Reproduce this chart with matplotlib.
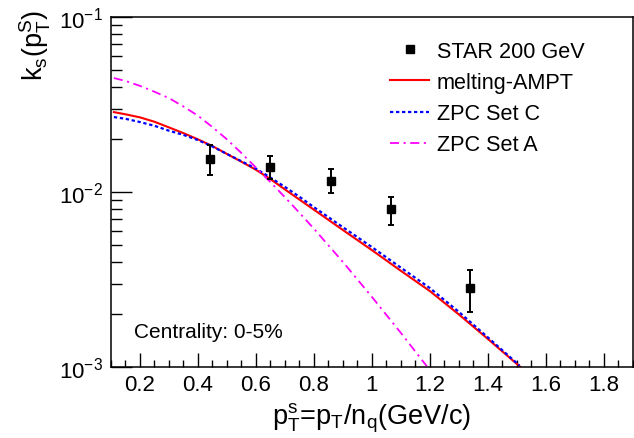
import matplotlib
matplotlib.use('Agg')
from matplotlib import pyplot as plt
from matplotlib.lines import Line2D
from matplotlib.ticker import LogLocator, MultipleLocator, FormatStrFormatter, NullFormatter

plt.rcParams['font.family'] = ['Liberation Sans', 'DejaVu Sans']
plt.rcParams['mathtext.default'] = 'regular'

# STAR 200 GeV data
star_x = [0.44, 0.65, 0.86, 1.065, 1.34]
star_y = [0.0155, 0.0139, 0.0116, 0.0080, 0.00283]
star_err_lo = [0.0030, 0.0020, 0.0017, 0.0015, 0.00077]
star_err_hi = [0.0031, 0.0022, 0.0019, 0.0014, 0.00075]

# model curves
ampt_x = [0.11, 0.15, 0.2, 0.25, 0.3, 0.35, 0.4, 0.45, 0.5, 0.55, 0.6, 0.65, 0.7, 0.75,
          0.8, 0.9, 1.0, 1.1, 1.2, 1.3, 1.4, 1.513]
ampt_y = [0.0286, 0.0278, 0.0267, 0.0252, 0.0234, 0.0217, 0.0200, 0.0183, 0.0165, 0.0149,
          0.0134, 0.01186, 0.01035, 0.00906, 0.00793, 0.00607, 0.00466, 0.00355, 0.00272,
          0.0020, 0.00145, 0.0010]

setc_x = [0.11, 0.15, 0.2, 0.25, 0.3, 0.35, 0.4, 0.45, 0.5, 0.55, 0.6, 0.65, 0.7, 0.75,
          0.8, 0.9, 1.0, 1.1, 1.2, 1.3, 1.4, 1.51]
setc_y = [0.0268, 0.0262, 0.0251, 0.0239, 0.0224, 0.0212, 0.0198, 0.0182, 0.0165, 0.0150,
          0.0136, 0.0121, 0.0107, 0.0094, 0.0082, 0.0063, 0.00485, 0.0037, 0.00283,
          0.00207, 0.00148, 0.00102]

seta_x = [0.11, 0.15, 0.2, 0.25, 0.3, 0.35, 0.4, 0.45, 0.5, 0.55, 0.6, 0.65, 0.7, 0.75,
          0.8, 0.9, 1.0, 1.1, 1.19]
seta_y = [0.0448, 0.0431, 0.0404, 0.0374, 0.0344, 0.0308, 0.0273, 0.0235, 0.0200, 0.0167,
          0.0138, 0.0114, 0.00935, 0.00762, 0.00618, 0.00399, 0.00252, 0.00157, 0.00101]

fig = plt.figure(figsize=(6.34, 4.39), dpi=100)
ax = fig.add_axes([111 / 634, 1 - 368 / 439, 521.5 / 634, 350 / 439])

ax.plot(ampt_x, ampt_y, color='#ff0000', lw=1.5)
ax.plot(setc_x, setc_y, color='#0000ff', lw=1.6, ls=(0, (1.5, 1.2)))
ax.plot(seta_x, seta_y, color='#ff00ff', lw=1.3, ls=(0, (5, 2.5, 1.2, 2.5)))
ax.errorbar(star_x, star_y, yerr=[star_err_lo, star_err_hi], fmt='s', color='black',
            ms=6, elinewidth=1.4, capsize=2.5, capthick=1.4, zorder=5)

ax.set_yscale('log')
ax.set_xlim(0.1, 1.9)
ax.set_ylim(1e-3, 1e-1)

ax.xaxis.set_major_locator(MultipleLocator(0.2))
ax.xaxis.set_minor_locator(MultipleLocator(0.05))
ax.xaxis.set_major_formatter(FormatStrFormatter('%g'))
ax.yaxis.set_major_locator(LogLocator(base=10))
ax.yaxis.set_minor_locator(LogLocator(base=10, subs=range(2, 10)))
ax.yaxis.set_minor_formatter(NullFormatter())

ax.tick_params(which='both', direction='in', top=False, right=False, labelsize=16, width=1)
ax.tick_params(axis='x', which='major', length=10, pad=5)
ax.tick_params(axis='x', which='minor', length=5)
ax.tick_params(axis='y', which='major', length=15, pad=6)
ax.tick_params(axis='y', which='minor', length=8)
for side in ['top', 'right', 'left', 'bottom']:
    ax.spines[side].set_linewidth(1.1)

ax.set_xlabel('$p_{T}^{s}$=$p_{T}$/$n_{q}$(GeV/c)', fontsize=19.5, labelpad=4)
fig.text(35 / 634, 1 - 45 / 439, '$k_{s}(p_{T}^{S})$', fontsize=19.5, rotation=90,
         ha='center', va='center')

ax.text(0.044, 0.085, 'Centrality: 0-5%', transform=ax.transAxes, fontsize=15)

handles = [
    Line2D([], [], ls='none', marker='s', ms=6, color='black'),
    Line2D([], [], color='#ff0000', lw=1.5),
    Line2D([], [], color='#0000ff', lw=1.6, ls=(0, (1.5, 1.2))),
    Line2D([], [], color='#ff00ff', lw=1.3, ls=(0, (5, 2.5, 1.2, 2.5))),
]
labels = ['STAR 200 GeV', 'melting-AMPT', 'ZPC Set C', 'ZPC Set A']
ax.legend(handles, labels, loc='upper left', bbox_to_anchor=(0.535, 0.932),
          frameon=False, fontsize=15.6, labelspacing=0.47, handlelength=1.8,
          handletextpad=0.37, borderpad=0, borderaxespad=0)

fig.savefig('out.png', dpi=100)
